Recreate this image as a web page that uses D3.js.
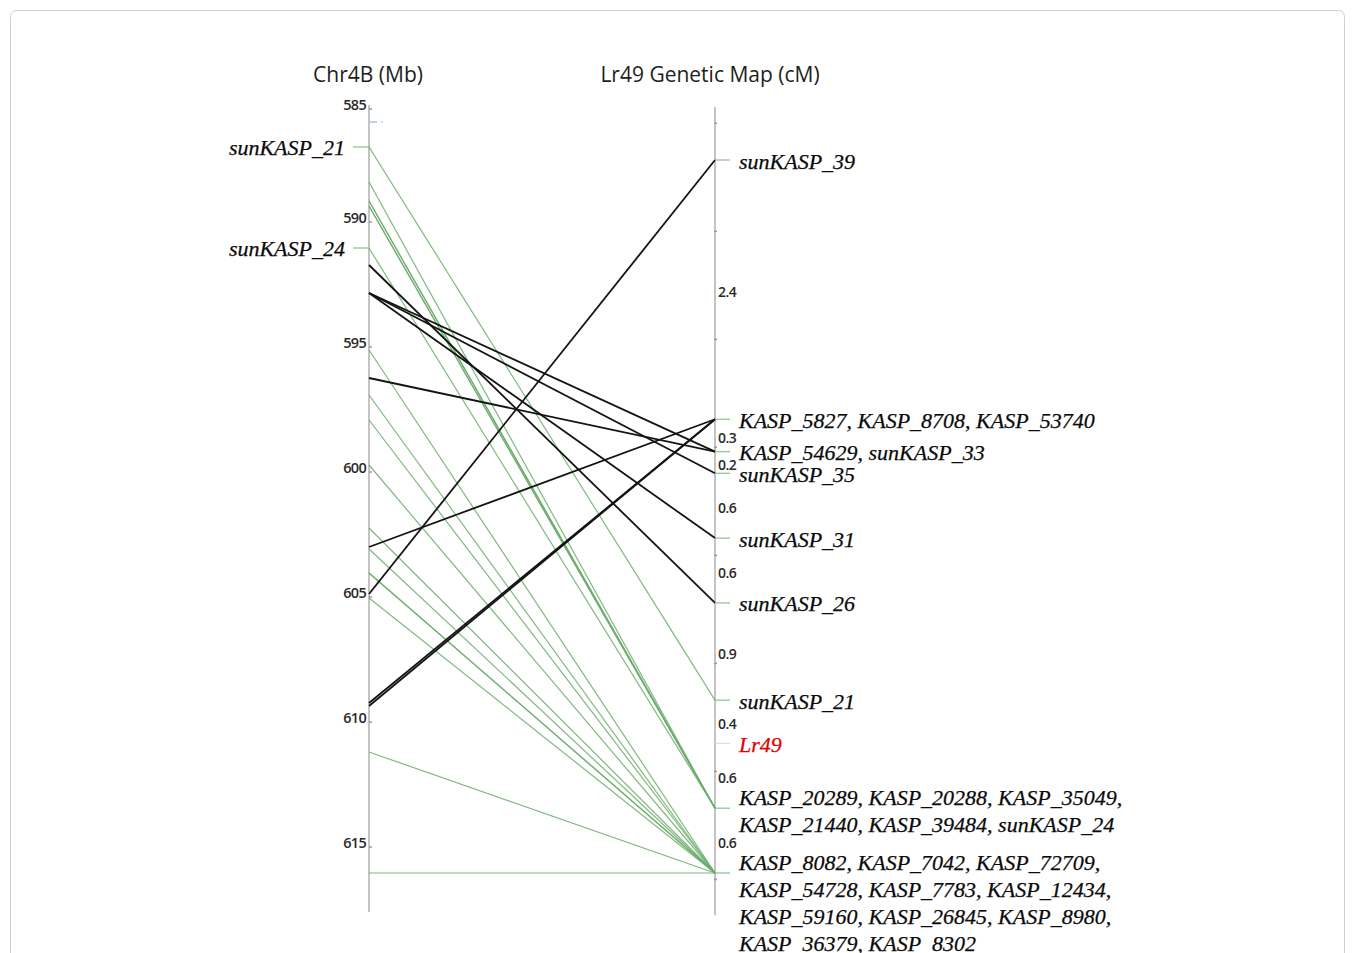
<!DOCTYPE html>
<html>
<head>
<meta charset="utf-8">
<script src="https://cdn.jsdelivr.net/npm/d3@7"></script>
<style>
  html, body { margin: 0; padding: 0; background: #fff; }
  svg { display: block; }
</style>
</head>
<body>
<svg id="chart" width="1355" height="953"></svg>
<script>
// Physical axis (Mb) tick values
const chrTicks = [585, 590, 595, 600, 605, 610, 615];

// Genetic map: distances (cM) between consecutive loci, top to bottom
const mapIntervals = [2.4, 0.3, 0.2, 0.6, 0.6, 0.9, 0.4, 0.6, 0.6];

// Markers sitting at each genetic-map locus
const mapLoci = [
  ["sunKASP_39"],
  ["KASP_5827", "KASP_8708", "KASP_53740"],
  ["KASP_54629", "sunKASP_33"],
  ["sunKASP_35"],
  ["sunKASP_31"],
  ["sunKASP_26"],
  ["sunKASP_21"],
  ["Lr49"],
  ["KASP_20289", "KASP_20288", "KASP_35049", "KASP_21440", "KASP_39484", "sunKASP_24"],
  ["KASP_8082", "KASP_7042", "KASP_72709", "KASP_54728", "KASP_7783", "KASP_12434",
   "KASP_59160", "KASP_26845", "KASP_8980", "KASP_36379", "KASP_8302"]
];

// Physical position (Mb) on Chr4B of each mapped marker
const linkMarkers = [
  "sunKASP_39", "KASP_5827", "KASP_8708", "KASP_53740", "KASP_54629", "sunKASP_33",
  "sunKASP_35", "sunKASP_31", "sunKASP_26", "sunKASP_21",
  "KASP_20289", "KASP_20288", "KASP_35049", "KASP_21440", "KASP_39484", "sunKASP_24",
  "KASP_8082", "KASP_7042", "KASP_72709", "KASP_54728", "KASP_7783", "KASP_12434",
  "KASP_59160", "KASP_26845", "KASP_8980", "KASP_36379", "KASP_8302"
];
const linkMb = [
  605.04, 603.16, 609.40, 609.52, 593.00, 596.40,
  593.00, 593.00, 591.88, 587.16,
  588.56, 589.32, 589.32, 589.52, 589.52, 591.20,
  595.28, 597.08, 598.08, 599.88, 602.40, 603.24,
  604.20, 604.20, 605.20, 611.36, 616.20
];
// true = order agrees between the two maps (green), false = rearranged (black)
const linkCollinear = [
  false, false, false, false, false, false,
  false, false, false, true,
  true, true, true, true, true, true,
  true, true, true, true, true, true,
  true, true, true, true, true
];

// Markers named beside the physical axis
const chrLabels = ["sunKASP_21", "sunKASP_24"];
// Unlinked feature near the top of the physical axis
const chrExtra = [586.16];

const svg = d3.select("#chart");

// frame
svg.append("rect")
  .attr("x", 10.5).attr("y", 10.5)
  .attr("width", 1334).attr("height", 980)
  .attr("rx", 6)
  .attr("fill", "none")
  .attr("stroke", "#cfcfcf")
  .attr("stroke-width", 1);

const xL = 369, xR = 715;

// scales
const yPhys = d3.scaleLinear().domain([590, 615]).range([218, 843]);
const yGen = d3.scaleLinear().domain([0, 6.6]).range([160, 873]);

const physTop = 585.48, physBottom = 617.76;
const genTop = -0.49, genBottom = 6.99;

const cum = [0];
mapIntervals.forEach((d, i) => cum.push(+(cum[i] + d).toFixed(2)));
const lociPos = new Map();
mapLoci.forEach((names, i) => names.forEach(n => lociPos.set(n, cum[i])));

// titles
const titleFont = "'Open Sans', 'Noto Sans', sans-serif";
svg.append("text").attr("x", xL - 1).attr("y", 82)
  .attr("text-anchor", "middle").attr("font-family", titleFont)
  .attr("font-size", 21).attr("fill", "#1e1e1e").text("Chr4B (Mb)");
svg.append("text").attr("x", 710).attr("y", 82)
  .attr("text-anchor", "middle").attr("font-family", titleFont)
  .attr("font-size", 21).attr("fill", "#1e1e1e").text("Lr49 Genetic Map (cM)");

// axis lines
svg.append("line").attr("x1", xL).attr("x2", xL)
  .attr("y1", yPhys(physTop)).attr("y2", yPhys(physBottom))
  .attr("stroke", "#c4c4c4").attr("stroke-width", 2);
svg.append("line").attr("x1", xR).attr("x2", xR)
  .attr("y1", yGen(genTop)).attr("y2", yGen(genBottom))
  .attr("stroke", "#c4c4c4").attr("stroke-width", 2);

// physical ticks
const axisTopY = yPhys(physTop);
const tickG = svg.append("g");
chrTicks.forEach(v => {
  const y = Math.max(yPhys(v), axisTopY);
  tickG.append("text").attr("x", xL - 3).attr("y", y - 1)
    .attr("text-anchor", "end").attr("dominant-baseline", "central")
    .attr("font-family", titleFont).attr("font-size", 14.5)
    .attr("font-weight", 600)
    .attr("letter-spacing", -0.7)
    .attr("fill", "#2a2a2a").text(v);
  tickG.append("line").attr("x1", xL).attr("x2", xL + 3)
    .attr("y1", y + 4).attr("y2", y + 4)
    .attr("stroke", "#999").attr("stroke-width", 1.5);
});

// genetic-map minor ticks, 1 cM apart
d3.range(-0.34, genBottom, 1).forEach(v => {
  svg.append("line").attr("x1", xR - 1).attr("x2", xR + 2)
    .attr("y1", yGen(v)).attr("y2", yGen(v))
    .attr("stroke", "#999").attr("stroke-width", 1.5);
});

// unlinked feature
chrExtra.forEach(v => {
  svg.append("line").attr("x1", xL + 1).attr("x2", xL + 8)
    .attr("y1", yPhys(v)).attr("y2", yPhys(v))
    .attr("stroke", "#8fb4e0").attr("stroke-width", 1.2);
  svg.append("line").attr("x1", xL + 12).attr("x2", xL + 14)
    .attr("y1", yPhys(v)).attr("y2", yPhys(v))
    .attr("stroke", "#8fb4e0").attr("stroke-width", 1.2);
});

// connecting lines: green first, black on top
const links = linkMarkers.map((m, i) => ({
  name: m, mb: linkMb[i], cm: lociPos.get(m), col: linkCollinear[i]
}));
const order = links.slice().sort((a, b) => (a.col === b.col ? 0 : a.col ? -1 : 1));
svg.append("g").selectAll("line").data(order).join("line")
  .attr("x1", xL).attr("y1", d => yPhys(d.mb))
  .attr("x2", xR).attr("y2", d => yGen(d.cm))
  .attr("stroke", d => d.col ? "#6aab6a" : "#141414")
  .attr("stroke-opacity", d => d.col ? 0.85 : 1)
  .attr("stroke-width", d => d.col ? 1.2 : 1.8);

// physical-axis marker labels
const serif = "'Liberation Serif', 'Times New Roman', serif";
chrLabels.forEach(n => {
  const mb = linkMb[linkMarkers.indexOf(n)];
  const y = yPhys(mb);
  svg.append("line").attr("x1", xL - 16).attr("x2", xL)
    .attr("y1", y).attr("y2", y)
    .attr("stroke", "#8cc08c").attr("stroke-width", 1.2);
  svg.append("text").attr("x", 345).attr("y", y)
    .attr("text-anchor", "end").attr("dominant-baseline", "central")
    .attr("font-family", serif).attr("font-style", "italic")
    .attr("font-size", 22).attr("fill", "#0a0a0a")
    .attr("stroke", "#0a0a0a").attr("stroke-width", 0.25).text(n);
});

// genetic-map locus labels
mapLoci.forEach((names, i) => {
  const y = yGen(cum[i]);
  const isGene = names[0] === "Lr49";
  svg.append("line").attr("x1", xR).attr("x2", xR + 15)
    .attr("y1", y).attr("y2", y)
    .attr("stroke", isGene ? "#d6e2d6" : "#8cc08c").attr("stroke-width", 1.2);
  const lines = [];
  for (let k = 0; k < names.length; k += 3) {
    const chunk = names.slice(k, k + 3).join(", ");
    lines.push(k + 3 < names.length ? chunk + "," : chunk);
  }
  const y0 = lines.length > 1 ? y - 11 : y + 1;
  const fill = isGene ? "#e00000" : "#0a0a0a";
  lines.forEach((t, j) => {
    svg.append("text").attr("x", 739).attr("y", y0 + j * 27)
      .attr("dominant-baseline", "central")
      .attr("font-family", serif).attr("font-style", "italic")
      .attr("font-size", 22).attr("fill", fill)
      .attr("stroke", fill).attr("stroke-width", 0.25)
      .text(t);
  });
});

// interval distances between loci
mapIntervals.forEach((d, i) => {
  const y = (yGen(cum[i]) + yGen(cum[i + 1])) / 2;
  svg.append("text").attr("x", xR + 3).attr("y", y + 2)
    .attr("dominant-baseline", "central")
    .attr("font-family", titleFont).attr("font-size", 14)
    .attr("font-weight", 600)
    .attr("letter-spacing", -0.6)
    .attr("fill", "#2a2a2a").text(d);
});
</script>
</body>
</html>
